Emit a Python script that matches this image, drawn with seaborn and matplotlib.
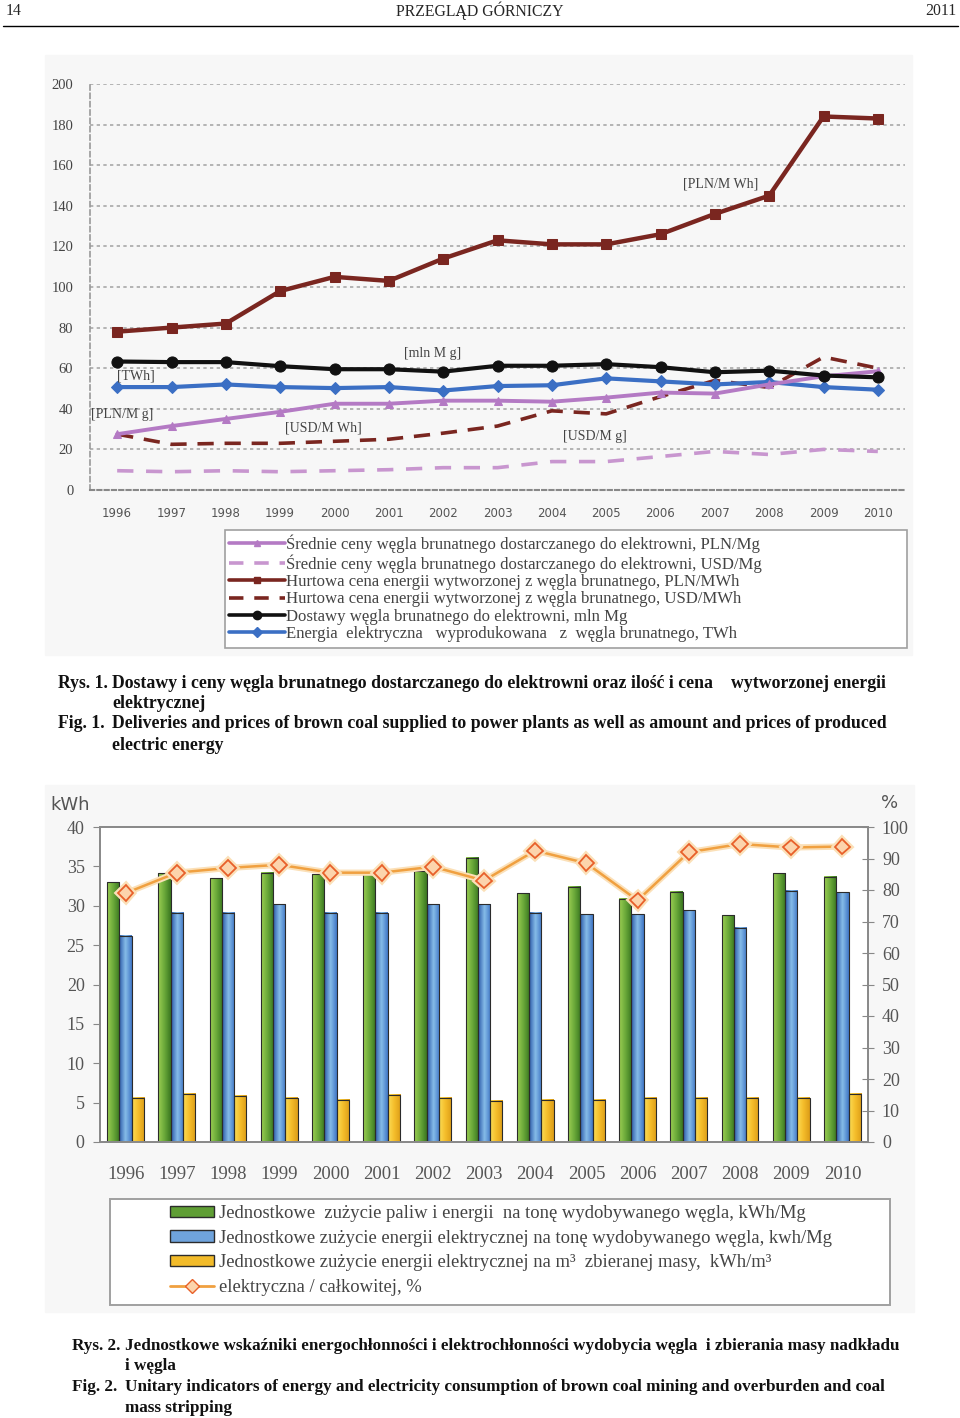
import numpy as np
import pandas as pd
import matplotlib
matplotlib.use("Agg")
import matplotlib.pyplot as plt
import matplotlib.patheffects as pe
from matplotlib.lines import Line2D
from matplotlib.patches import Rectangle, Patch
from matplotlib.colors import LinearSegmentedColormap, to_hex
import seaborn as sns

# ── DATA ──────────────────────────────────────────────────────────────────────
years = list(range(1996, 2011))

# Rys. 1
pln_mg = [27.5, 31.5, 35, 38.5, 42.5, 42.5, 44, 44, 43.5, 45.5, 48, 47.5, 52, 56, 58.5]
usd_mg = [9.5, 9, 9.5, 9, 9.5, 10, 11, 11, 14, 14, 16.5, 19, 17.5, 20, 19]
pln_mwh = [78, 80, 82, 98, 105, 103, 114, 123, 121, 121, 126, 136, 145, 184, 183]
usd_mwh = [27.5, 22.5, 23, 23, 24, 25, 28, 31.5, 39, 37.5, 46, 54, 50.5, 65.5, 60]
coal_mln = [63.3, 63, 63, 61, 59.5, 59.5, 58.3, 61.2, 61.2, 62, 60.5, 58, 58.8, 56.4, 55.5]
twh = [50.7, 50.7, 52, 50.7, 50.2, 50.7, 49, 51.2, 51.6, 55, 53.5, 52, 53.2, 50.7, 49.4]

labels1 = [
    "Średnie ceny węgla brunatnego dostarczanego do elektrowni, PLN/Mg",
    "Średnie ceny węgla brunatnego dostarczanego do elektrowni, USD/Mg",
    "Hurtowa cena energii wytworzonej z węgla brunatnego, PLN/MWh",
    "Hurtowa cena energii wytworzonej z węgla brunatnego, USD/MWh",
    "Dostawy węgla brunatnego do elektrowni, mln Mg",
    "Energia  elektryczna   wyprodukowana   z  węgla brunatnego, TWh",
]
notes1 = [("[PLN/M Wh]", 2007.1, 150.5), ("[mln M g]", 2001.8, 67),
          ("[TWh]", 1996.35, 56.3), ("[PLN/M g]", 1996.1, 37.4),
          ("[USD/M Wh]", 1999.8, 30.5), ("[USD/M g]", 2004.8, 26.2)]

# Rys. 2
fuel_kwh = [33.0, 34.1, 33.5, 34.2, 34.0, 34.0, 34.4, 36.1, 31.6, 32.4, 30.9, 31.8, 28.8, 34.1, 33.7]
elec_kwh = [26.2, 29.1, 29.1, 30.2, 29.1, 29.1, 30.2, 30.2, 29.1, 28.9, 28.9, 29.4, 27.2, 31.9, 31.7]
elec_m3 = [5.6, 6.1, 5.85, 5.6, 5.35, 6.0, 5.6, 5.25, 5.35, 5.35, 5.6, 5.6, 5.6, 5.6, 6.1]
elec_pct = [79, 85.5, 87, 88, 85.5, 85.5, 87.4, 83, 92.5, 88.5, 76.7, 92, 94.6, 93.5, 93.8]

labels2 = [
    "Jednostkowe  zużycie paliw i energii  na tonę wydobywanego węgla, kWh/Mg",
    "Jednostkowe zużycie energii elektrycznej na tonę wydobywanego węgla, kwh/Mg",
    "Jednostkowe zużycie energii elektrycznej na m³  zbieranej masy,  kWh/m³",
    "elektryczna / całkowitej, %",
]

# ── STYLE ─────────────────────────────────────────────────────────────────────
sns.set_style("white")
plt.rcParams["font.family"] = ["Liberation Serif", "DejaVu Serif"]

W, H = 960, 1418
fig = plt.figure(figsize=(W / 100, H / 100), dpi=100)
fig.patch.set_facecolor("white")


def fx(x):
    return x / W


def fy(y):
    return 1 - y / H


# ── HEADER ────────────────────────────────────────────────────────────────────
fig.text(fx(6), fy(11), "14", fontsize=11.3, va="center", ha="left")
fig.text(fx(480), fy(11), "PRZEGLĄD GÓRNICZY", fontsize=11.3, va="center", ha="center")
fig.text(fx(957), fy(11), "2011", fontsize=11.3, va="center", ha="right")
fig.add_artist(Line2D([fx(3), fx(958)], [fy(26), fy(26)], color="black", lw=1.0))

# scanned panels
fig.add_artist(Rectangle((fx(45), fy(655)), fx(912) - fx(45), fy(55) - fy(655),
                         color="#f7f7f7", zorder=0))
fig.add_artist(Rectangle((fx(45), fy(1312)), fx(914) - fx(45), fy(785) - fy(1312),
                         color="#f7f7f7", zorder=0))

# ── CHART 1 ───────────────────────────────────────────────────────────────────
ax1 = fig.add_axes([fx(90), fy(490), fx(905) - fx(90), fy(84) - fy(490)])
ax1.set_facecolor("none")

purple = "#b47ac4"
purple_d = "#c896cf"
brown = "#7a2620"
black = "#111111"
blue = "#3b6fc4"

specs = [
    (usd_mg, purple_d, (0, (4.5, 3.5)), None, 0, 2.6),
    (usd_mwh, brown, (0, (4.5, 3.0)), None, 0, 2.6),
    (twh, blue, "-", "D", 6, 3.0),
    (pln_mg, purple, "-", "^", 6, 2.8),
    (coal_mln, black, "-", "o", 8, 3.0),
    (pln_mwh, brown, "-", "s", 7, 3.2),
]
for vals, col, ls, mk, ms, lw in specs:
    sns.lineplot(x=years, y=vals, ax=ax1, color=col, linestyle=ls, marker=mk,
                 markersize=ms, linewidth=lw, markeredgecolor=col)

ax1.set_xlim(1995.5, 2010.5)
ax1.set_ylim(0, 200)
ax1.set_yticks(range(0, 201, 20))
ax1.set_xticks(years)
ax1.set_xticklabels([str(y) for y in years], family="DejaVu Sans", fontsize=8.5, color="#555555")
ax1.tick_params(axis="y", labelsize=10.5, labelcolor="#444444", length=0, pad=12)
ax1.tick_params(axis="x", length=0, pad=12)
ax1.set_xlabel("")
ax1.set_ylabel("")
for yv in range(20, 201, 20):
    ax1.axhline(yv, color="#a8a8a8", lw=1.2, linestyle=(0, (2, 2)), zorder=0)
for s in ["top", "right"]:
    ax1.spines[s].set_visible(False)
ax1.spines["left"].set_color("#999999")
ax1.spines["left"].set_linestyle((0, (3, 2)))
ax1.spines["left"].set_linewidth(1.2)
ax1.spines["bottom"].set_color("#888888")
ax1.spines["bottom"].set_linestyle((0, (2, 1.5)))
ax1.spines["bottom"].set_linewidth(1.5)

for txt, xv, yv in notes1:
    ax1.text(xv, yv, txt, fontsize=10, color="#444444", ha="center", va="center")

# legend 1
fig.add_artist(Rectangle((fx(225), fy(648)), fx(907) - fx(225), fy(530) - fy(648),
                         facecolor="white", edgecolor="#a0a0a0", lw=1.2, zorder=1))
leg_specs1 = [(purple, "-", "^", 5), (purple_d, (0, (4, 3)), None, 0),
              (brown, "-", "s", 5), (brown, (0, (4, 3)), None, 0),
              (black, "-", "o", 6), (blue, "-", "D", 5)]
handles1 = [Line2D([], [], color=c, linestyle=ls, marker=m, markersize=ms, lw=2.6,
                   markeredgecolor=c) for c, ls, m, ms in leg_specs1]
leg1 = fig.legend(handles1, labels1, loc="upper left", bbox_to_anchor=(fx(226), fy(531)),
                  frameon=False, fontsize=12.1, handlelength=3.3, handletextpad=0.1,
                  labelspacing=0.08, borderpad=0.2, borderaxespad=0)
for t in leg1.get_texts():
    t.set_color("#444444")

# caption 1
cap_kw = dict(fontsize=12.8, fontweight="bold", va="center", ha="left", color="#111111")
fig.text(fx(58), fy(683), "Rys. 1.", **cap_kw)
fig.text(fx(112), fy(683), "Dostawy i ceny węgla brunatnego dostarczanego do elektrowni oraz ilość i cena    wytworzonej energii", **cap_kw)
fig.text(fx(112), fy(703), "elektrycznej", **cap_kw)
fig.text(fx(58), fy(724), "Fig. 1.", **cap_kw)
fig.text(fx(112), fy(724), "Deliveries and prices of brown coal supplied to power plants as well as amount and prices of produced", **cap_kw)
fig.text(fx(112), fy(745), "electric energy", **cap_kw)

# ── CHART 2 ───────────────────────────────────────────────────────────────────
ax2 = fig.add_axes([fx(100), fy(1142), fx(868) - fx(100), fy(827) - fy(1142)])
ax2.set_facecolor("white")

df2 = pd.DataFrame({
    "year": [str(y) for y in years] * 3,
    "value": fuel_kwh + elec_kwh + elec_m3,
    "series": [labels2[0]] * 15 + [labels2[1]] * 15 + [labels2[2]] * 15,
})
bar_cols = ["#5f9e34", "#3e72c2", "#f2bb2a"]
sns.barplot(data=df2, x="year", y="value", hue="series", palette=bar_cols,
            saturation=1, width=0.72, ax=ax2, edgecolor="#2b2b2b", linewidth=0.8,
            legend=False)

cmaps = {
    to_hex(bar_cols[0]): LinearSegmentedColormap.from_list("g", ["#9ccf52", "#6aa93a", "#3a7620"]),
    to_hex(bar_cols[1]): LinearSegmentedColormap.from_list("b", ["#2a58a8", "#86bce8", "#4077c6"]),
    to_hex(bar_cols[2]): LinearSegmentedColormap.from_list("y", ["#fbdc55", "#f4bd2a", "#dc9c18"]),
}
grad = np.linspace(0, 1, 64).reshape(1, -1)
for bar in list(ax2.patches):
    key = to_hex(bar.get_facecolor())
    if key not in cmaps:
        continue
    x0, w, h = bar.get_x(), bar.get_width(), bar.get_height()
    ax2.imshow(grad, cmap=cmaps[key], extent=[x0, x0 + w, 0, h], aspect="auto",
               origin="lower", zorder=1.1, interpolation="bilinear")
    bar.set_facecolor("none")
    bar.set_zorder(1.2)

ax2.set_xlim(-0.5, 14.5)
ax2.set_ylim(0, 40)
ax2.set_yticks(range(0, 41, 5))
ax2.set_xlabel("")
ax2.set_ylabel("")
ax2.set_xticks(range(15))
ax2.set_xticklabels([str(y) for y in years], fontsize=13.5, color="#555555")
ax2.set_xticks(np.arange(-0.5, 15, 1), minor=True)
ax2.tick_params(axis="x", which="major", length=0, pad=17)
ax2.tick_params(axis="x", which="minor", length=7, direction="out", color="#888888", width=1)
ax2.tick_params(axis="y", labelsize=13, labelcolor="#555555", length=5, direction="out",
                color="#888888", pad=6)
for s in ax2.spines.values():
    s.set_color("#8a8a8a")
    s.set_linewidth(1.3)

ax3 = ax2.twinx()
sns.pointplot(x=[str(y) for y in years], y=elec_pct, ax=ax3, color="#f0a040",
              markers="D", linestyles="-", errorbar=None, markersize=8,
              markerfacecolor="#fcd4ac", markeredgecolor="#e8602a", markeredgewidth=1.3,
              linewidth=1.8)
for ln in ax3.lines:
    ln.set_path_effects([pe.Stroke(linewidth=4.5, foreground="#fbe0b8"), pe.Normal()])
ax3.set_xlim(-0.5, 14.5)
ax3.set_ylim(0, 100)
ax3.set_yticks(range(0, 101, 10))
ax3.set_ylabel("")
ax3.tick_params(axis="y", labelsize=13, labelcolor="#555555", length=8, direction="inout",
                color="#888888", pad=6)
for s in ax3.spines.values():
    s.set_color("#8a8a8a")
    s.set_linewidth(1.3)

fig.text(fx(70), fy(805), "kWh", family="DejaVu Sans", fontsize=13, color="#555555",
         ha="center", va="center")
fig.text(fx(890), fy(803), "%", family="DejaVu Sans", fontsize=13, color="#555555",
         ha="center", va="center")

# legend 2
fig.add_artist(Rectangle((fx(110), fy(1305)), fx(890) - fx(110), fy(1199) - fy(1305),
                         facecolor="white", edgecolor="#a0a0a0", lw=1.4, zorder=1))
handles2 = [Patch(facecolor=bar_cols[0], edgecolor="#2b2b2b"),
            Patch(facecolor="#6fa3dc", edgecolor="#2b2b2b"),
            Patch(facecolor=bar_cols[2], edgecolor="#2b2b2b"),
            Line2D([], [], color="#f0a040", lw=2, marker="D", markersize=7,
                   markerfacecolor="#fcd4ac", markeredgecolor="#e8602a")]
leg2 = fig.legend(handles2, labels2, loc="upper left", bbox_to_anchor=(fx(166), fy(1201)),
                  frameon=False, fontsize=13.4, handlelength=2.4, handleheight=0.55,
                  handletextpad=0.25, labelspacing=0.42, borderpad=0.2, borderaxespad=0)
for t in leg2.get_texts():
    t.set_color("#444444")

# caption 2
cap_kw["fontsize"] = 12.35
fig.text(fx(72), fy(1346), "Rys. 2.", **cap_kw)
fig.text(fx(125), fy(1346), "Jednostkowe wskaźniki energochłonności i elektrochłonności wydobycia węgla  i zbierania masy nadkładu", **cap_kw)
fig.text(fx(125), fy(1366), "i węgla", **cap_kw)
fig.text(fx(72), fy(1387), "Fig. 2.", **cap_kw)
fig.text(fx(125), fy(1387), "Unitary indicators of energy and electricity consumption of brown coal mining and overburden and coal", **cap_kw)
fig.text(fx(125), fy(1408), "mass stripping", **cap_kw)

fig.savefig("out.png", dpi=100)
